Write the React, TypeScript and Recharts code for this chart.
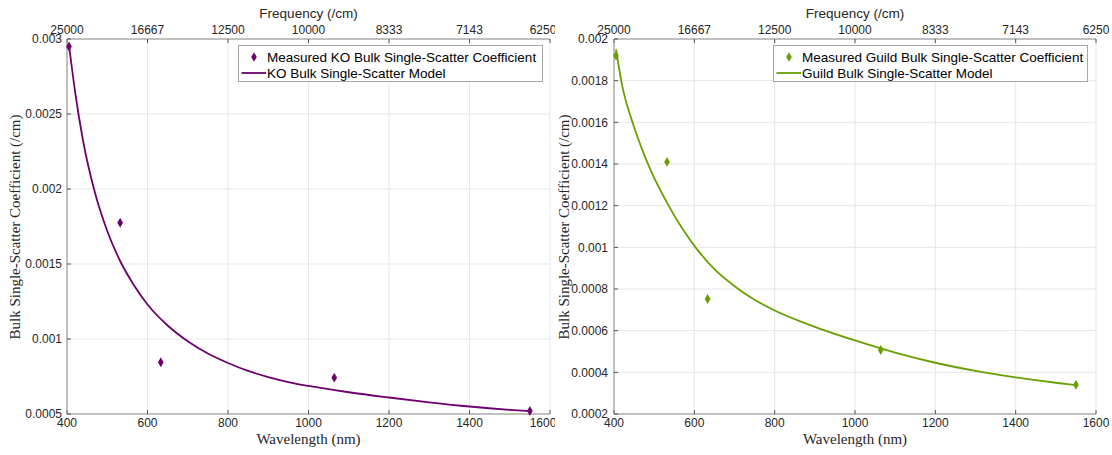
import React from "react";
import {
  ComposedChart,
  Line,
  Scatter,
  XAxis,
  YAxis,
  ZAxis,
  CartesianGrid,
  Legend,
} from "recharts";

const SANS = '"Liberation Sans", Arial, Helvetica, sans-serif';
const SERIF = '"Liberation Serif", "Times New Roman", Times, serif';
const TEXT = "#262626";
const AXIS = "#8c8c8c";
const GRID = "#e6e6e6";

const WL_TICKS = [400, 600, 800, 1000, 1200, 1400, 1600];
const FREQ_LABELS = ["25000", "16667", "12500", "10000", "8333", "7143", "6250"];

// measured points (wavelength, nm)
const MEAS_WL = [405, 532, 633, 1064, 1550];
const KO_MEAS = [0.00295, 0.001775, 0.000845, 0.000742, 0.00052];
const GUILD_MEAS = [0.00192, 0.00141, 0.000752, 0.000507, 0.00034];

// model curves
const KO_MODEL_WL = [405, 420, 440, 467, 500, 532, 566, 600, 650, 700, 750, 800, 850, 900, 950, 1000, 1100, 1200, 1300, 1400, 1500, 1550];
const KO_MODEL = [0.00296, 0.00265, 0.00232, 0.002, 0.00172, 0.00152, 0.00136, 0.00123, 0.00109, 0.000985, 0.000903, 0.00084, 0.000787, 0.000746, 0.000713, 0.000687, 0.000645, 0.00061, 0.000578, 0.00055, 0.000528, 0.000519];

const GUILD_MODEL_WL = [405, 420, 446, 470, 489, 536, 570, 605, 650, 701, 750, 800, 870, 1000, 1100, 1200, 1300, 1400, 1500, 1550];
const GUILD_MODEL = [0.00195, 0.00178, 0.0016, 0.00147, 0.00138, 0.0012, 0.00109, 0.000995, 0.000895, 0.000812, 0.000748, 0.000697, 0.00064, 0.000553, 0.000495, 0.000446, 0.000407, 0.000376, 0.00035, 0.000339];

const KO_TICKS = [0.0005, 0.001, 0.0015, 0.002, 0.0025, 0.003];
const GUILD_TICKS = [0.0002, 0.0004, 0.0006, 0.0008, 0.001, 0.0012, 0.0014, 0.0016, 0.0018, 0.002];

const toPoints = (xs: number[], ys: number[]) => xs.map((wl, i) => ({ wl, v: ys[i] }));

function LegendBox({ payload }: any) {
  const items = (payload || [])
    .filter((e: any) => e.type !== "none")
    .sort((a: any, b: any) => (a.type === "line" ? 1 : 0) - (b.type === "line" ? 1 : 0));
  return (
    <div
      style={{
        boxSizing: "border-box",
        width: "100%",
        height: 37,
        border: "1px solid #a6a6a6",
        background: "#fff",
        paddingTop: 3,
        fontFamily: SANS,
        fontSize: 13.5,
        color: "#000",
      }}
    >
      {items.map((e: any) => (
        <div key={e.value} style={{ display: "flex", alignItems: "center", height: 16, whiteSpace: "nowrap" }}>
          <svg width={28} height={16} style={{ flex: "none" }}>
            {e.type === "line" ? (
              <line x1={2.5} x2={27} y1={8} y2={8} stroke={e.color} strokeWidth={1.8} />
            ) : (
              <path d="M15,3.3L17.8,8L15,12.7L12.2,8Z" fill={e.color} />
            )}
          </svg>
          <span>{e.value}</span>
        </div>
      ))}
    </div>
  );
}

interface PanelProps {
  left: number;
  width: number;
  yAxisWidth: number;
  marginRight: number;
  yTicks: number[];
  color: string;
  measured: { wl: number; v: number }[];
  model: { wl: number; v: number }[];
  measName: string;
  modelName: string;
  legendLeft: number;
  legendWidth: number;
  yLabelX: number;
  yTickMargin: number;
}

function Panel(p: PanelProps) {
  const H = 455;
  const plotLeft = p.yAxisWidth;
  const plotRight = p.width - p.marginRight;
  const cx = (plotLeft + plotRight) / 2;
  const yDomain = [p.yTicks[0], p.yTicks[p.yTicks.length - 1]];
  const tick = { fontSize: 12, fill: TEXT, fontFamily: SANS };

  return (
    <div style={{ position: "absolute", left: p.left, top: 0 }}>
      <ComposedChart
        width={p.width}
        height={H}
        margin={{ top: 0, right: p.marginRight, bottom: 0, left: 0 }}
      >
        <CartesianGrid stroke={GRID} />
        <XAxis
          dataKey="wl"
          type="number"
          domain={[400, 1600]}
          ticks={WL_TICKS}
          height={41}
          tick={tick}
          tickSize={-4}
          tickMargin={8}
          stroke={AXIS}
          tickLine={{ stroke: "#555" }}
          label={() => (
            <text x={cx} y={444} textAnchor="middle" fontFamily={SERIF} fontSize={15} fill={TEXT}>
              Wavelength (nm)
            </text>
          )}
        />
        <XAxis
          xAxisId="t"
          orientation="top"
          dataKey="wl"
          type="number"
          domain={[400, 1600]}
          ticks={WL_TICKS}
          allowDataOverflow
          height={39}
          tick={tick}
          tickSize={-4}
          tickMargin={9}
          stroke={AXIS}
          tickLine={{ stroke: "#555" }}
          tickFormatter={(_v: number, i: number) => FREQ_LABELS[i]}
          label={() => (
            <text x={cx} y={18} textAnchor="middle" fontFamily={SANS} fontSize={13.5} fill={TEXT}>
              Frequency (/cm)
            </text>
          )}
        />
        <YAxis
          dataKey="v"
          type="number"
          domain={yDomain}
          ticks={p.yTicks}
          width={p.yAxisWidth}
          tick={tick}
          tickSize={-4}
          tickMargin={p.yTickMargin}
          stroke={AXIS}
          tickLine={{ stroke: "#555" }}
          tickFormatter={(v: number) => String(v)}
          label={() => (
            <text
              x={p.yLabelX}
              y={227}
              transform={`rotate(-90 ${p.yLabelX} 227)`}
              textAnchor="middle"
              dominantBaseline="central"
              fontFamily={SERIF}
              fontSize={15}
              fill={TEXT}
            >
              Bulk Single-Scatter Coefficient (/cm)
            </text>
          )}
        />
        <YAxis
          yAxisId="r"
          orientation="right"
          dataKey="v"
          type="number"
          domain={yDomain}
          ticks={p.yTicks}
          allowDataOverflow
          width={0}
          tick={false}
          tickSize={-4}
          stroke={AXIS}
          tickLine={{ stroke: "#555" }}
        />
        <ZAxis range={[28, 28]} />
        <Scatter
          name={p.measName}
          data={p.measured}
          dataKey="v"
          fill={p.color}
          shape="diamond"
          legendType="diamond"
          isAnimationActive={false}
        />
        <Line
          name={p.modelName}
          data={p.model}
          dataKey="v"
          type="monotone"
          stroke={p.color}
          strokeWidth={1.8}
          dot={false}
          activeDot={false}
          legendType="line"
          isAnimationActive={false}
        />
        {/* invisible series so the top and right box axes get drawn */}
        <Line
          name="frame"
          xAxisId="t"
          yAxisId="r"
          data={p.model}
          dataKey="v"
          stroke="none"
          dot={false}
          activeDot={false}
          legendType="none"
          isAnimationActive={false}
        />
        <Legend
          layout="vertical"
          align="center"
          verticalAlign="middle"
          wrapperStyle={{ left: p.legendLeft, top: 45, width: p.legendWidth, height: 37 }}
          content={(props: any) => <LegendBox payload={props.payload} />}
        />
      </ComposedChart>
    </div>
  );
}

export default function App() {
  return (
    <div style={{ position: "absolute", left: 0, top: 0, width: 1112, height: 455, background: "#fff" }}>
      <Panel
        left={0}
        width={555}
        yAxisWidth={67}
        marginRight={5}
        yTicks={KO_TICKS}
        color="#6e016e"
        measured={toPoints(MEAS_WL, KO_MEAS)}
        model={toPoints(KO_MODEL_WL, KO_MODEL)}
        measName="Measured KO Bulk Single-Scatter Coefficient"
        modelName="KO Bulk Single-Scatter Model"
        legendLeft={238}
        legendWidth={305}
        yLabelX={15}
        yTickMargin={9}
      />
      <Panel
        left={552}
        width={560}
        yAxisWidth={62}
        marginRight={16}
        yTicks={GUILD_TICKS}
        color="#68a000"
        measured={toPoints(MEAS_WL, GUILD_MEAS)}
        model={toPoints(GUILD_MODEL_WL, GUILD_MODEL)}
        measName="Measured Guild Bulk Single-Scatter Coefficient"
        modelName="Guild Bulk Single-Scatter Model"
        legendLeft={221}
        legendWidth={315}
        yLabelX={12}
        yTickMargin={10}
      />
    </div>
  );
}
